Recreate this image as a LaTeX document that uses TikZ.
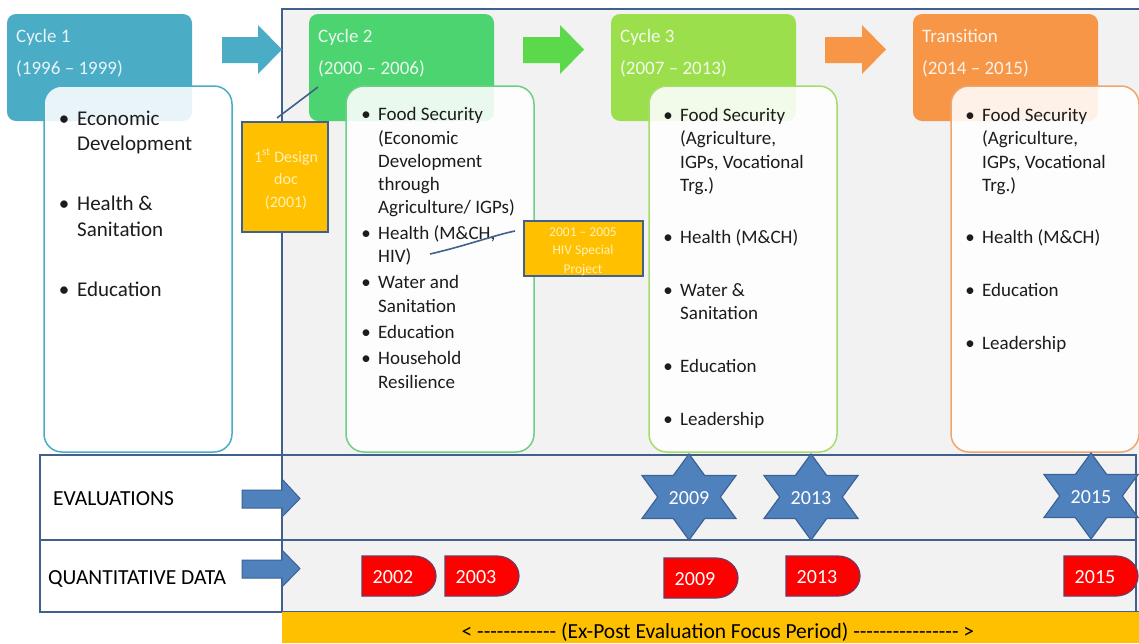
\documentclass[tikz,border=0pt]{standalone}
\usepackage{fontspec}
\setmainfont{Carlito}
\definecolor{cyA}{HTML}{4BACC6}
\definecolor{cyB}{HTML}{4CD471}
\definecolor{cyBline}{HTML}{6CCF84}
\definecolor{cyC}{HTML}{9BE04C}
\definecolor{cyCline}{HTML}{A8DC6A}
\definecolor{cyD}{HTML}{F79646}
\definecolor{cyDline}{HTML}{EFA56E}
\definecolor{arrB}{HTML}{5CD94A}
\definecolor{bggray}{HTML}{F2F2F2}
\definecolor{frame}{HTML}{41608C}
\definecolor{gold}{HTML}{FFC000}
\definecolor{goldtxt}{HTML}{FFF1B8}
\definecolor{evfill}{HTML}{4F81BD}
\definecolor{evline}{HTML}{3B6396}
\definecolor{qdred}{HTML}{FF0000}
\definecolor{qdline}{HTML}{6E3A60}
\definecolor{txt}{HTML}{1C1C1C}

% six-pointed evaluation star: name, x, y, label
\newcommand{\hexstar}[4]{%
  \path[fill=evfill, draw=evline, line width=1.2pt, shift={(#2,#3)}]
    (0,-43) -- (15.7,-21.5) -- (47,-21.5) -- (31.3,0) -- (47,21.5) -- (15.7,21.5)
    -- (0,43) -- (-15.7,21.5) -- (-47,21.5) -- (-31.3,0) -- (-47,-21.5) -- (-15.7,-21.5) -- cycle;
  \node[evtxt] (#1) at (#2,#3+7) {#4};}

% red data-collection tag: name, left x, top y, label
\newcommand{\qdtag}[4]{%
  \path[fill=qdred, draw=qdline, line width=1.2pt, shift={(#2,#3)}]
    (0,0) -- (52,0) arc[start angle=-90, end angle=90, x radius=22, y radius=20] -- (0,40) -- cycle;
  \node[evtxt] (#1) at (#2+31,#3+27) {#4};}

% a run of plain hyphens (kerns keep them from joining into dashes)
\newcommand{\hyphenrun}[1]{\foreach \k in {1,...,#1}{-\kern0pt}}

\begin{document}
\begin{tikzpicture}[x=1pt,y=-1pt,
  hdr/.style={anchor=north west, inner sep=0, outer sep=0, rounded corners=9pt,
    minimum width=185pt, minimum height=107pt},
  body/.style={anchor=north west, inner sep=0, outer sep=0, fill=white, fill opacity=0.88,
    rounded corners=18pt, line width=1.5pt, minimum width=188pt, minimum height=366pt},
  hdrtxt/.style={anchor=base west, inner sep=0, text=white, text opacity=0.88,
    font=\fontsize{19}{22}\selectfont},
  bt/.style={anchor=base west, inner sep=0, text=txt, font=\fontsize{19}{22}\selectfont},
  bl/.style={anchor=base, inner sep=0, text=txt, font=\fontsize{19}{22}\selectfont},
  btl/.style={anchor=base west, inner sep=0, text=txt, font=\fontsize{21}{25}\selectfont},
  bll/.style={anchor=base, inner sep=0, text=txt, font=\fontsize{21}{25}\selectfont},
  rowtxt/.style={anchor=base west, inner sep=0, text=black, font=\fontsize{21.5}{25}\selectfont},
  evtxt/.style={anchor=base, inner sep=0, text=white, font=\fontsize{20}{24}\selectfont},
  note/.style={draw=frame, line width=1.6pt, fill=gold, anchor=north west, inner sep=0, outer sep=0},
  notetxt/.style={anchor=base, inner sep=0, text=goldtxt},
  link/.style={draw=frame, line width=1.6pt}]
\useasboundingbox (0,0) rectangle (1139,643);

% programme period frame
\path[fill=bggray, draw=frame, line width=1.5pt] (282,9) rectangle (1150,612);

% evaluation and data rows
\path[fill=white] (40,455) rectangle (282,612);
\draw[frame, line width=1.5pt] (40,455) rectangle (1136,612);
\draw[frame, line width=1.5pt] (40,540) -- (1136,540);
\draw[frame, line width=1.5pt] (282,455) -- (282,612);

% cycle headers
\node[hdr, fill=cyA] (h1) at (7,14) {};
\node[hdr, fill=cyB] (h2) at (309,14) {};
\node[hdr, fill=cyC] (h3) at (611,14) {};
\node[hdr, fill=cyD] (h4) at (913,14) {};

\node[hdrtxt] (h1a) at (16,42) {Cycle 1};
\node[hdrtxt] (h1b) at (16,74) {(1996 – 1999)};
\node[hdrtxt] (h2a) at (318,42) {Cycle 2};
\node[hdrtxt] (h2b) at (318,74) {(2000 – 2006)};
\node[hdrtxt] (h3a) at (620,42) {Cycle 3};
\node[hdrtxt] (h3b) at (620,74) {(2007 – 2013)};
\node[hdrtxt] (h4a) at (922,42) {Transition};
\node[hdrtxt] (h4b) at (922,74) {(2014 – 2015)};

% block arrows between the phases
\fill[cyA, shift={(222,25)}] (0,12) -- (36,12) -- (36,0) -- (60,24.5) -- (36,49) -- (36,38) -- (0,38) -- cycle;
\fill[arrB, shift={(523,25)}] (0,12) -- (37,12) -- (37,0) -- (61,24.5) -- (37,49) -- (37,38) -- (0,38) -- cycle;
\fill[cyD, shift={(825,25)}] (0,12) -- (37,12) -- (37,0) -- (61,24.5) -- (37,49) -- (37,38) -- (0,38) -- cycle;

% phase content boxes
\node[body, draw=cyA] (b1) at (44,86) {};
\node[body, draw=cyBline] (b2) at (346,86) {};
\node[body, draw=cyCline] (b3) at (649,86) {};
\node[body, draw=cyDline] (b4) at (951,86) {};

% cycle 1 topics
\node[bll] (p1) at (64,125) {\textbullet};
\node[btl] (t1a) at (77,125) {Economic};
\node[btl] (t1b) at (77,150) {Development};
\node[bll] (p2) at (64,210) {\textbullet};
\node[btl] (t1c) at (77,210) {Health \&};
\node[btl] (t1d) at (77,236) {Sanitation};
\node[bll] (p3) at (64,296) {\textbullet};
\node[btl] (t1e) at (77,296) {Education};

% cycle 2 topics
\node[bl] (q1) at (366,120) {\textbullet};
\node[bt] (t2a) at (378,120) {Food Security};
\node[bt] (t2b) at (378,144) {(Economic};
\node[bt] (t2c) at (378,167) {Development};
\node[bt] (t2d) at (378,190) {through};
\node[bt] (t2e) at (378,213) {Agriculture/ IGPs)};
\node[bl] (q2) at (366,239) {\textbullet};
\node[bt] (t2f) at (378,239) {Health (M\&CH,};
\node[bt] (t2g) at (378,262) {HIV)};
\node[bl] (q3) at (366,288) {\textbullet};
\node[bt] (t2h) at (378,288) {Water and};
\node[bt] (t2i) at (378,312) {Sanitation};
\node[bl] (q4) at (366,338) {\textbullet};
\node[bt] (t2j) at (378,338) {Education};
\node[bl] (q5) at (366,364) {\textbullet};
\node[bt] (t2k) at (378,364) {Household};
\node[bt] (t2l) at (378,388) {Resilience};

% cycle 3 topics
\node[bl] (r1) at (668,121) {\textbullet};
\node[bt] (t3a) at (680,121) {Food Security};
\node[bt] (t3b) at (680,144) {(Agriculture,};
\node[bt] (t3c) at (680,168) {IGPs, Vocational};
\node[bt] (t3d) at (680,191) {Trg.)};
\node[bl] (r2) at (668,243) {\textbullet};
\node[bt] (t3e) at (680,243) {Health (M\&CH)};
\node[bl] (r3) at (668,296) {\textbullet};
\node[bt] (t3f) at (680,296) {Water \&};
\node[bt] (t3g) at (680,319) {Sanitation};
\node[bl] (r4) at (668,372) {\textbullet};
\node[bt] (t3h) at (680,372) {Education};
\node[bl] (r5) at (668,425) {\textbullet};
\node[bt] (t3i) at (680,425) {Leadership};

% transition topics
\node[bl] (s1) at (970,121) {\textbullet};
\node[bt] (t4a) at (982,121) {Food Security};
\node[bt] (t4b) at (982,144) {(Agriculture,};
\node[bt] (t4c) at (982,168) {IGPs, Vocational};
\node[bt] (t4d) at (982,191) {Trg.)};
\node[bl] (s2) at (970,243) {\textbullet};
\node[bt] (t4e) at (982,243) {Health (M\&CH)};
\node[bl] (s3) at (970,296) {\textbullet};
\node[bt] (t4f) at (982,296) {Education};
\node[bl] (s4) at (970,349) {\textbullet};
\node[bt] (t4g) at (982,349) {Leadership};

% design document note
\node[note, minimum width=86pt, minimum height=110pt] (doc) at (242,122) {};
\node[notetxt, font=\fontsize{16}{19}\selectfont] (doca) at (286,162) {1\textsuperscript{st} Design};
\node[notetxt, font=\fontsize{16}{19}\selectfont] (docb) at (286,184) {doc};
\node[notetxt, font=\fontsize{16}{19}\selectfont] (docc) at (286,207) {(2001)};
\coordinate (docend) at (277,118);
\coordinate (docpt) at (318,87);
\draw[link] (docend) -- (docpt);

% HIV project note
\node[note, minimum width=119pt, minimum height=55pt] (hiv) at (524,221) {};
\node[notetxt, font=\fontsize{13.5}{16}\selectfont] (hiva) at (583,236) {2001 – 2005};
\node[notetxt, font=\fontsize{13.5}{16}\selectfont] (hivb) at (583,254) {HIV Special};
\node[notetxt, font=\fontsize{13.5}{16}\selectfont] (hivc) at (583,273) {Project};
\coordinate (hivstart) at (430,254);
\coordinate (hivend) at (515,231);
\draw[link] (hivstart) .. controls (465,246) and (495,235) .. (hivend);

% row labels and arrows
\node[rowtxt] (evl) at (53,505) {EVALUATIONS};
\node[rowtxt] (qdl) at (48,584) {QUANTITATIVE DATA};
\path[fill=evfill, draw=evline, line width=1pt, shift={(242,479)}]
  (0,11) -- (40,11) -- (40,0) -- (58,19.5) -- (40,38) -- (40,29) -- (0,29) -- cycle;
\path[fill=evfill, draw=evline, line width=1pt, shift={(242,550)}]
  (0,10) -- (40,10) -- (40,0) -- (58,18.5) -- (40,37) -- (40,28) -- (0,28) -- cycle;

% evaluations
\hexstar{e09}{689}{497}{2009}
\hexstar{e13}{811}{497}{2013}
\hexstar{e15}{1091}{496}{2015}

% quantitative data collections
\qdtag{d02}{362}{556}{2002}
\qdtag{d03}{445}{556}{2003}
\qdtag{d09}{664}{558}{2009}
\qdtag{d13}{786}{556}{2013}
\qdtag{d15}{1064}{556}{2015}

% focus period bar
\path[fill=gold] (282,612) rectangle (1139,643);
\node[anchor=base, inner sep=0, text=black, font=\fontsize{21.5}{24}\selectfont] (focus) at (718,638)
  {< \hyphenrun{12} (Ex-Post Evaluation Focus Period) \hyphenrun{16} >};
\end{tikzpicture}
\end{document}
